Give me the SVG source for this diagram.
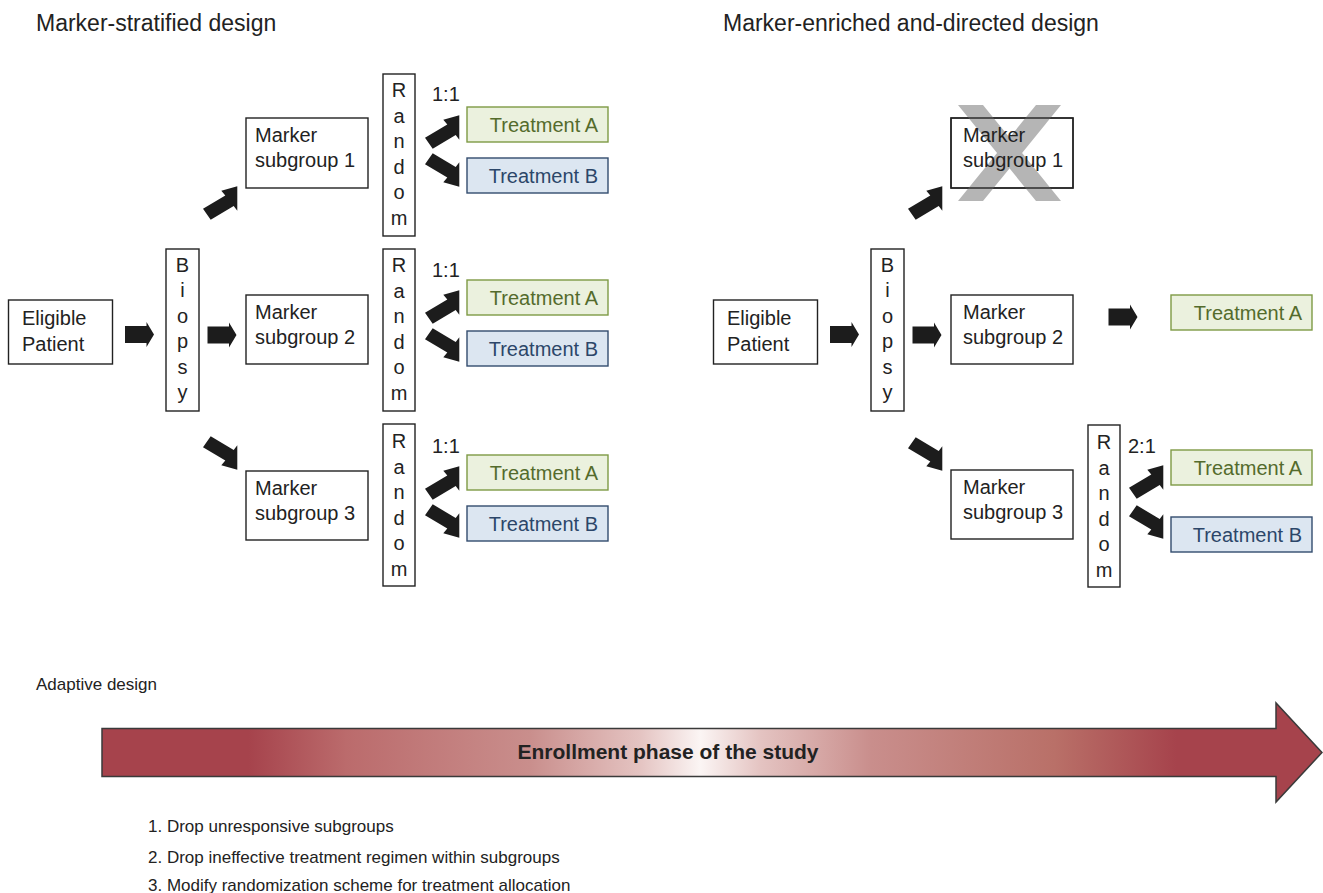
<svg xmlns="http://www.w3.org/2000/svg" xmlns:xlink="http://www.w3.org/1999/xlink" width="1323" height="893" viewBox="0 0 1323 893">
  <defs>
    <style>
      .t { font-family: "Liberation Sans", Arial, sans-serif; font-size: 20px; fill: #222; }
      .title { font-family: "Liberation Sans", Arial, sans-serif; font-size: 23px; fill: #222; }
      .small { font-family: "Liberation Sans", Arial, sans-serif; font-size: 17px; fill: #222; }
      .v { font-family: "Liberation Sans", Arial, sans-serif; font-size: 20px; fill: #222; text-anchor: middle; }
      .box { fill: #fff; stroke: #222; stroke-width: 1.4; }
      .ta { fill: #EBF1DE; stroke: #7E9A45; stroke-width: 1.4; }
      .tb { fill: #DCE6F1; stroke: #334C6E; stroke-width: 1.4; }
      .tat { font-family: "Liberation Sans", Arial, sans-serif; font-size: 20px; fill: #546B2C; text-anchor: end; }
      .tbt { font-family: "Liberation Sans", Arial, sans-serif; font-size: 20px; fill: #2C4669; text-anchor: end; }
      .arr { fill: #1c1c1c; }
    </style>
    <!-- straight block arrow, centred on the origin, pointing right -->
    <path id="fat" d="M-14.5,-8.5 H7 V-12.5 L14.5,0 L7,12.5 V8.5 H-14.5 Z"/>
    <!-- bent block arrow heading up and to the right -->
    <path id="bend" d="M-17,5.7 L5.3,-7.4 L1.3,-12.3 L17.3,-16.7 L17.3,7.7 L13.7,3.1 L-9.3,16.7 Z"/>
    <linearGradient id="phase" x1="102" y1="0" x2="1323" y2="0" gradientUnits="userSpaceOnUse">
      <stop offset="0" stop-color="#A6434C"/>
      <stop offset="0.12" stop-color="#A6434C"/>
      <stop offset="0.2" stop-color="#BB6B6C"/>
      <stop offset="0.35" stop-color="#C98E8C"/>
      <stop offset="0.44" stop-color="#E4C3C1"/>
      <stop offset="0.49" stop-color="#FBF5F4"/>
      <stop offset="0.54" stop-color="#E4C3C1"/>
      <stop offset="0.63" stop-color="#C98E8C"/>
      <stop offset="0.78" stop-color="#B97068"/>
      <stop offset="0.88" stop-color="#A6434C"/>
      <stop offset="1" stop-color="#A6434C"/>
    </linearGradient>
  </defs>

  <rect width="1323" height="893" fill="#fff"/>

  <!-- panel headings -->
  <text class="title" x="36" y="31">Marker-stratified design</text>
  <text class="title" x="723" y="31">Marker-enriched and-directed design</text>

  <!-- ============ Marker-stratified design ============ -->
  <g id="ms-eligible">
    <rect class="box" x="8.5" y="300" width="104" height="64"/>
    <text class="t" x="22" y="325">Eligible</text>
    <text class="t" x="22" y="351">Patient</text>
  </g>
  <g id="ms-biopsy">
    <rect class="box" x="166" y="249" width="33" height="162"/>
    <text class="v" x="182.5" y="272"><tspan x="182.5">B</tspan><tspan x="182.5" dy="25.4">i</tspan><tspan x="182.5" dy="25.4">o</tspan><tspan x="182.5" dy="25.4">p</tspan><tspan x="182.5" dy="25.4">s</tspan><tspan x="182.5" dy="25.4">y</tspan></text>
  </g>
  <g id="ms-sub1">
    <rect class="box" x="246" y="118" width="122" height="70"/>
    <text class="t" x="255" y="142">Marker</text>
    <text class="t" x="255" y="167">subgroup 1</text>
  </g>
  <g id="ms-sub2">
    <rect class="box" x="246" y="295" width="122" height="69"/>
    <text class="t" x="255" y="319">Marker</text>
    <text class="t" x="255" y="344">subgroup 2</text>
  </g>
  <g id="ms-sub3">
    <rect class="box" x="246" y="471" width="122" height="69"/>
    <text class="t" x="255" y="495">Marker</text>
    <text class="t" x="255" y="520">subgroup 3</text>
  </g>
  <g id="ms-random1">
    <rect class="box" x="383" y="74" width="32" height="162"/>
    <text class="v" x="399" y="97"><tspan x="399">R</tspan><tspan x="399" dy="25.5">a</tspan><tspan x="399" dy="25.5">n</tspan><tspan x="399" dy="25.5">d</tspan><tspan x="399" dy="25.5">o</tspan><tspan x="399" dy="25.5">m</tspan></text>
  </g>
  <g id="ms-random2">
    <rect class="box" x="383" y="249" width="32" height="162"/>
    <text class="v" x="399" y="272"><tspan x="399">R</tspan><tspan x="399" dy="25.5">a</tspan><tspan x="399" dy="25.5">n</tspan><tspan x="399" dy="25.5">d</tspan><tspan x="399" dy="25.5">o</tspan><tspan x="399" dy="25.5">m</tspan></text>
  </g>
  <g id="ms-random3">
    <rect class="box" x="383" y="424" width="32" height="162"/>
    <text class="v" x="399" y="448"><tspan x="399">R</tspan><tspan x="399" dy="25.5">a</tspan><tspan x="399" dy="25.5">n</tspan><tspan x="399" dy="25.5">d</tspan><tspan x="399" dy="25.5">o</tspan><tspan x="399" dy="25.5">m</tspan></text>
  </g>
  <g id="ms-ratios">
    <text class="t" x="432" y="101">1:1</text>
    <text class="t" x="432" y="277">1:1</text>
    <text class="t" x="432" y="453">1:1</text>
  </g>
  <g id="ms-treatA1"><rect class="ta" x="467" y="107" width="141" height="35"/><text class="tat" x="598" y="132">Treatment A</text></g>
  <g id="ms-treatB1"><rect class="tb" x="467" y="158" width="141" height="35"/><text class="tbt" x="598" y="183">Treatment B</text></g>
  <g id="ms-treatA2"><rect class="ta" x="467" y="280" width="141" height="35"/><text class="tat" x="598" y="305">Treatment A</text></g>
  <g id="ms-treatB2"><rect class="tb" x="467" y="331" width="141" height="35"/><text class="tbt" x="598" y="356">Treatment B</text></g>
  <g id="ms-treatA3"><rect class="ta" x="467" y="455" width="141" height="35"/><text class="tat" x="598" y="480">Treatment A</text></g>
  <g id="ms-treatB3"><rect class="tb" x="467" y="506" width="141" height="35"/><text class="tbt" x="598" y="531">Treatment B</text></g>

  <!-- ============ Marker-enriched and-directed design ============ -->
  <g id="me-eligible">
    <rect class="box" x="713.5" y="300" width="104" height="64"/>
    <text class="t" x="727" y="325">Eligible</text>
    <text class="t" x="727" y="351">Patient</text>
  </g>
  <g id="me-biopsy">
    <rect class="box" x="871" y="249" width="33" height="162"/>
    <text class="v" x="887.5" y="272"><tspan x="887.5">B</tspan><tspan x="887.5" dy="25.4">i</tspan><tspan x="887.5" dy="25.4">o</tspan><tspan x="887.5" dy="25.4">p</tspan><tspan x="887.5" dy="25.4">s</tspan><tspan x="887.5" dy="25.4">y</tspan></text>
  </g>
  <g id="me-sub1">
    <rect class="box" x="951" y="118" width="122" height="70"/>
    <!-- grey cross: subgroup dropped -->
    <polygon points="958,105 983,105 1061,201 1036,201" fill="#B5B5B5"/>
    <polygon points="1036,105 1061,105 983,201 958,201" fill="#B5B5B5"/>
    <rect x="951" y="118" width="122" height="70" fill="none" stroke="#222" stroke-width="1.4"/>
    <text class="t" x="963" y="142">Marker</text>
    <text class="t" x="963" y="167">subgroup 1</text>
  </g>
  <g id="me-sub2">
    <rect class="box" x="951" y="295" width="122" height="69"/>
    <text class="t" x="963" y="319">Marker</text>
    <text class="t" x="963" y="344">subgroup 2</text>
  </g>
  <g id="me-sub3">
    <rect class="box" x="951" y="470" width="122" height="69"/>
    <text class="t" x="963" y="494">Marker</text>
    <text class="t" x="963" y="519">subgroup 3</text>
  </g>
  <g id="me-random">
    <rect class="box" x="1088" y="425" width="32" height="162"/>
    <text class="v" x="1104" y="449"><tspan x="1104">R</tspan><tspan x="1104" dy="25.5">a</tspan><tspan x="1104" dy="25.5">n</tspan><tspan x="1104" dy="25.5">d</tspan><tspan x="1104" dy="25.5">o</tspan><tspan x="1104" dy="25.5">m</tspan></text>
  </g>
  <g id="me-ratio"><text class="t" x="1128" y="453">2:1</text></g>
  <g id="me-treatA2"><rect class="ta" x="1171" y="295" width="141" height="35"/><text class="tat" x="1302" y="320">Treatment A</text></g>
  <g id="me-treatA3"><rect class="ta" x="1171" y="450" width="141" height="35"/><text class="tat" x="1302" y="475">Treatment A</text></g>
  <g id="me-treatB3"><rect class="tb" x="1171" y="517" width="141" height="35"/><text class="tbt" x="1302" y="542">Treatment B</text></g>

  <!-- connectors -->
  <g id="connectors" class="arr">
    <use xlink:href="#fat" transform="translate(139.5,334.5)"/>
    <use xlink:href="#fat" transform="translate(222,335)"/>
    <use xlink:href="#bend" transform="translate(220,203)"/>
    <use xlink:href="#bend" transform="translate(220,453) scale(1,-1)"/>
    <use xlink:href="#bend" transform="translate(442,132)"/>
    <use xlink:href="#bend" transform="translate(442,170) scale(1,-1)"/>
    <use xlink:href="#bend" transform="translate(442,307)"/>
    <use xlink:href="#bend" transform="translate(442,345) scale(1,-1)"/>
    <use xlink:href="#bend" transform="translate(442,483)"/>
    <use xlink:href="#bend" transform="translate(442,521) scale(1,-1)"/>

    <use xlink:href="#fat" transform="translate(844.5,334.5)"/>
    <use xlink:href="#fat" transform="translate(927,335)"/>
    <use xlink:href="#bend" transform="translate(925,203)"/>
    <use xlink:href="#bend" transform="translate(925,454) scale(1,-1)"/>
    <use xlink:href="#fat" transform="translate(1123,317)"/>
    <use xlink:href="#bend" transform="translate(1146,482)"/>
    <use xlink:href="#bend" transform="translate(1146,522) scale(1,-1)"/>
  </g>

  <!-- ============ Adaptive design ============ -->
  <text class="small" x="36" y="690">Adaptive design</text>
  <g id="enrollment">
    <polygon points="102,728.5 1276,728.5 1276,703 1322,752.5 1276,802 1276,776.5 102,776.5" fill="url(#phase)" stroke="#3a3a3a" stroke-width="1.5"/>
    <text x="668" y="759" text-anchor="middle" font-family="'Liberation Sans', Arial, sans-serif" font-size="21" font-weight="bold" fill="#222">Enrollment phase of the study</text>
  </g>
  <g id="adaptations">
    <text class="small" x="148" y="832">1. Drop unresponsive subgroups</text>
    <text class="small" x="148" y="863">2. Drop ineffective treatment regimen within subgroups</text>
    <text class="small" x="148" y="891">3. Modify randomization scheme for treatment allocation</text>
  </g>
</svg>
